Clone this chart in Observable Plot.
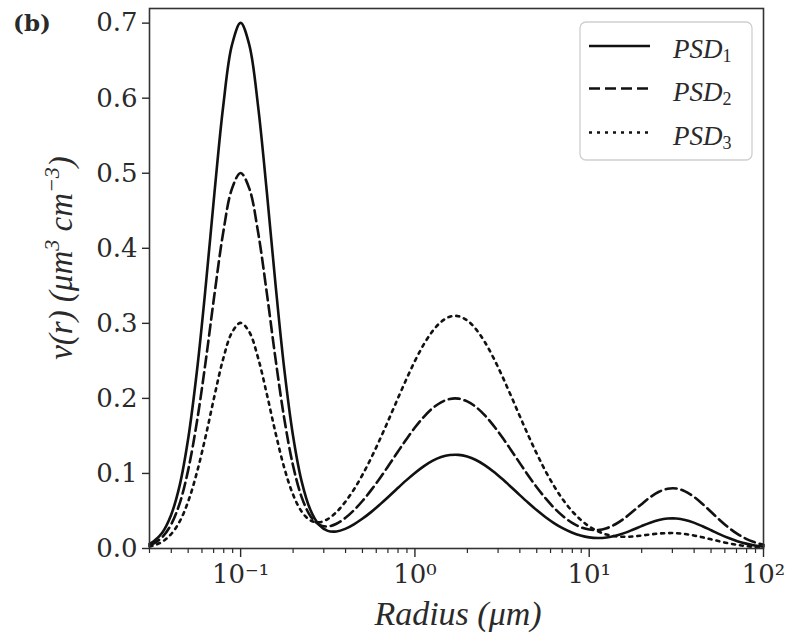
<!DOCTYPE html>
<html>
<head>
<meta charset="utf-8">
<script src="https://cdn.jsdelivr.net/npm/d3@7"></script>
<script src="https://cdn.jsdelivr.net/npm/@observablehq/plot@0.6"></script>
<style>
  html, body { margin: 0; padding: 0; background: #fff; }
  #chart { width: 794px; height: 636px; }
</style>
</head>
<body>
<div id="chart"></div>
<script>
// Radius (µm) sample positions along the curves
const radius = [
  0.03, 0.0316, 0.0355, 0.0398, 0.0447, 0.0501, 0.0562, 0.0631, 0.0708, 0.0794, 0.0891, 0.1,
  0.1122, 0.1259, 0.1413, 0.1585, 0.1778, 0.1995, 0.2239, 0.2512, 0.2818, 0.3162,
  0.3548, 0.3981, 0.4467, 0.5012, 0.5623, 0.631, 0.7079, 0.7943, 0.8913, 1,
  1.122, 1.259, 1.413, 1.585, 1.778, 1.995, 2.239, 2.512, 2.818, 3.162,
  3.548, 3.981, 4.467, 5.012, 5.623, 6.31, 7.079, 7.943, 8.913, 10,
  11.22, 12.59, 14.13, 15.85, 17.78, 19.95, 22.39, 25.12, 28.18, 31.62,
  35.48, 39.81, 44.67, 50.12, 56.23, 63.1, 70.79, 79.43, 89.13, 100
];
// v(r) values
const psd1 = [
  0.0062, 0.0093, 0.0211, 0.0440, 0.0841, 0.1475, 0.2375, 0.3505, 0.4744, 0.5889, 0.6706, 0.7003,
  0.6708, 0.5895, 0.4755, 0.3521, 0.2399, 0.1512, 0.0894, 0.0515, 0.0315, 0.0235,
  0.0227, 0.0261, 0.0322, 0.0399, 0.0488, 0.0588, 0.0693, 0.0802, 0.0908, 0.1007,
  0.1095, 0.1167, 0.1218, 0.1245, 0.1248, 0.1225, 0.1179, 0.1111, 0.1026, 0.0928,
  0.0823, 0.0715, 0.0609, 0.0508, 0.0416, 0.0335, 0.0267, 0.0213, 0.0173, 0.0148,
  0.0140, 0.0147, 0.0169, 0.0205, 0.0250, 0.0298, 0.0343, 0.0379, 0.0399, 0.0400,
  0.0381, 0.0345, 0.0297, 0.0243, 0.0188, 0.0139, 0.0097, 0.0065, 0.0041, 0.0024
];
const psd2 = [
  0.0044, 0.0066, 0.0151, 0.0314, 0.0601, 0.1054, 0.1696, 0.2504, 0.3389, 0.4207, 0.4791, 0.5004,
  0.4795, 0.4216, 0.3406, 0.2529, 0.1736, 0.1112, 0.0685, 0.0434, 0.0318, 0.0293,
  0.0330, 0.0406, 0.0510, 0.0636, 0.0781, 0.0940, 0.1109, 0.1282, 0.1452, 0.1612,
  0.1752, 0.1867, 0.1948, 0.1993, 0.1997, 0.1960, 0.1886, 0.1777, 0.1641, 0.1485,
  0.1317, 0.1144, 0.0974, 0.0813, 0.0667, 0.0538, 0.0430, 0.0345, 0.0285, 0.0252,
  0.0247, 0.0271, 0.0323, 0.0399, 0.0492, 0.0591, 0.0684, 0.0756, 0.0797, 0.0800,
  0.0762, 0.0690, 0.0594, 0.0486, 0.0377, 0.0278, 0.0195, 0.0129, 0.0082, 0.0049
];
const psd3 = [
  0.0026, 0.0040, 0.0090, 0.0188, 0.0360, 0.0632, 0.1018, 0.1503, 0.2034, 0.2526, 0.2877, 0.3006,
  0.2884, 0.2540, 0.2060, 0.1543, 0.1079, 0.0723, 0.0492, 0.0375, 0.0349, 0.0392,
  0.0486, 0.0620, 0.0787, 0.0986, 0.1211, 0.1458, 0.1720, 0.1988, 0.2251, 0.2498,
  0.2716, 0.2893, 0.3020, 0.3089, 0.3095, 0.3039, 0.2923, 0.2755, 0.2544, 0.2302,
  0.2041, 0.1773, 0.1509, 0.1259, 0.1029, 0.0825, 0.0649, 0.0503, 0.0385, 0.0294,
  0.0229, 0.0186, 0.0163, 0.0156, 0.0160, 0.0172, 0.0187, 0.0199, 0.0205, 0.0204,
  0.0193, 0.0174, 0.0149, 0.0122, 0.0094, 0.0069, 0.0049, 0.0032, 0.0020, 0.0012
];
const seriesNames = ["PSD", "PSD", "PSD"];
const seriesSubs = ["1", "2", "3"];
const xTicks = [0.1, 1, 10, 100];
const xTickLabels = ["10\u207B\u00B9", "10\u2070", "10\u00B9", "10\u00B2"];
const yTicks = [0, 0.1, 0.2, 0.3, 0.4, 0.5, 0.6, 0.7];
const panelLabel = "(b)";

const dashes = [null, "11,5", "3,5"];
const series = [psd1, psd2, psd3];
const tables = series.map(vals => radius.map((r, i) => ({r, v: vals[i]})));

const minorTicks = [];
for (const base of [0.01, 0.1, 1, 10]) for (let k = 2; k <= 9; k++) {
  const t = +(base * k).toPrecision(3);
  if (t >= 0.03 && t <= 100) minorTicks.push(t);
}

const ink = "#111";
const svg = Plot.plot({
  width: 794, height: 636,
  marginLeft: 149, marginRight: 31, marginTop: 8, marginBottom: 88,
  style: {background: "#fff", fontFamily: "DejaVu Serif", fontSize: "26px", color: "#2a2a2a"},
  x: {type: "log", domain: [0.03, 100]},
  y: {domain: [0, 0.7195]},
  marks: [
    ...tables.map((t, i) => Plot.line(t, {
      x: "r", y: "v", stroke: ink, strokeWidth: 2.6,
      strokeDasharray: dashes[i] || undefined, curve: "catmull-rom"
    })),
    Plot.frame({stroke: "#333", strokeWidth: 1.6}),
    Plot.axisY({ticks: yTicks, tickFormat: d3.format(".1f"), tickSize: 7, tickPadding: 5, label: null, strokeWidth: 1.4}),
    Plot.axisX({ticks: minorTicks, tickSize: 5, tickFormat: () => "", label: null, strokeWidth: 1.2}),
    Plot.axisX({ticks: xTicks, tickSize: 9, tickPadding: 7, label: null, strokeWidth: 1.4,
      tickFormat: d => xTickLabels[xTicks.indexOf(d)]})
  ]
});
document.getElementById("chart").appendChild(svg);

const s = d3.select(svg);
const serif = "Liberation Serif";

// panel label
s.append("text").attr("x", 13).attr("y", 31).attr("text-anchor", "start")
  .attr("font-family", "DejaVu Serif").attr("font-weight", "bold").attr("font-size", 23)
  .attr("fill", "#2a2a2a").text(panelLabel);

// x axis title
s.append("text").attr("x", 458).attr("y", 625).attr("text-anchor", "middle")
  .attr("font-family", serif).attr("font-style", "italic").attr("font-size", 34)
  .attr("fill", "#2a2a2a").text("Radius (\u03BCm)");

// y axis title
const yt = s.append("text").attr("transform", "translate(72,258) rotate(-90)")
  .attr("text-anchor", "middle").attr("font-family", serif).attr("font-style", "italic")
  .attr("font-size", 33).attr("fill", "#2a2a2a");
yt.append("tspan").text("v(r) (\u03BCm");
yt.append("tspan").attr("font-size", 22).attr("dy", -13).text("3");
yt.append("tspan").attr("dy", 13).text(" cm");
yt.append("tspan").attr("font-size", 22).attr("dy", -13).text("\u22123");
yt.append("tspan").attr("dy", 13).text(")");

// legend
const lg = s.append("g");
lg.append("rect").attr("x", 580).attr("y", 22).attr("width", 172).attr("height", 138)
  .attr("rx", 6).attr("fill", "#fff").attr("stroke", "#cfcfcf").attr("stroke-width", 1.3);
const ly = [46, 88.5, 132.5];
ly.forEach((y, i) => {
  lg.append("line").attr("x1", 589).attr("x2", 650).attr("y1", y).attr("y2", y)
    .attr("stroke", ink).attr("stroke-width", 2.6)
    .attr("stroke-dasharray", dashes[i] || null);
  const t = lg.append("text").attr("x", 673).attr("y", y + 12).attr("text-anchor", "start")
    .attr("font-family", serif).attr("font-style", "italic").attr("font-size", 27).attr("fill", "#2a2a2a");
  t.append("tspan").text(seriesNames[i]);
  t.append("tspan").attr("font-size", 18).attr("font-style", "normal").attr("dy", 4).text(seriesSubs[i]);
});
</script>
</body>
</html>
